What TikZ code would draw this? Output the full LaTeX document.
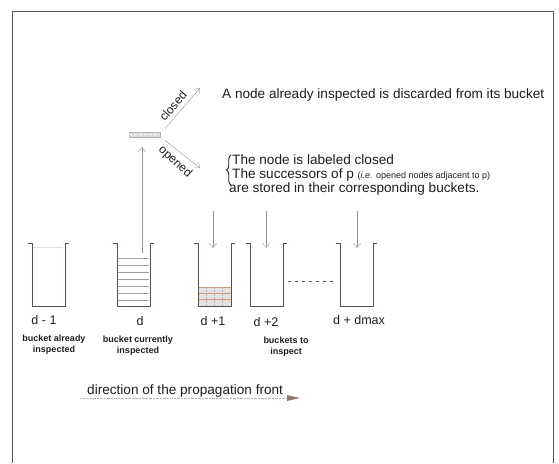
\documentclass[tikz,border=0pt]{standalone}
\usepackage{fontspec}
\setmainfont{Liberation Sans}
\usetikzlibrary{arrows.meta,positioning,calc,decorations.pathreplacing}
\definecolor{cwall}{RGB}{90,80,80}
\definecolor{carrow}{RGB}{150,150,150}
\definecolor{cstripe}{RGB}{160,160,160}
\definecolor{cgrid}{RGB}{205,150,120}
\definecolor{cfront}{RGB}{150,120,110}
\definecolor{ctext}{RGB}{30,30,30}
% bucket with its left wall at x = #1, rim centre named #2
\newcommand{\bucket}[2]{%
  \draw[cwall, semithick] (#1-4,243) -- (#1,243) -- (#1,306) -- (#1+33,306)
       -- (#1+33,243) -- (#1+37,243);
  \coordinate (#2) at (#1+16.5,243);}
\newcommand{\fs}[1]{\fontsize{#1}{#1}\selectfont}

\begin{document}
\begin{tikzpicture}[x=1pt,y=-1pt,
    arr/.style={-{Straight Barb[length=4.5pt,width=7pt]}, carrow, thin},
    txt/.style={anchor=west, inner sep=0pt, text=ctext, font=\fs{13.6}},
    lev/.style={inner sep=0pt, text=ctext, font=\fs{12.5}},
    note/.style={inner sep=0pt, text=ctext, align=center, font=\bfseries\fontsize{9}{11}\selectfont}]
        \useasboundingbox (0,0) rectangle (559,463);
        % frame
        \draw[gray!70!black, line width=1pt] (12,463) -- (12,11) -- (553,11) -- (553,463);
        % buckets
        \bucket{32}{bm}
        \bucket{117}{bd}
        \bucket{198}{bp1}
        \bucket{250}{bp2}
        \bucket{340}{bmax}
        \draw[gray!25] (33,247) -- (63,247);
        \foreach \y in {258,265,...,300}
          \draw[cstripe] (118,\y) -- (149,\y);
        \fill[gray!22] (198.5,287) rectangle (230.5,305.5);
        \foreach \y in {287,293,299}
          \draw[cgrid, thin] (198.5,\y) -- (230.5,\y);
        \foreach \x in {206,214,222}
          \draw[gray!55, densely dotted] (\x,287) -- (\x,305.5);
        \draw[cwall, thick, dash pattern=on 3pt off 4pt] (288,281) -- (337,281);
        % levels
        \node[lev] (lm) at (44,320) {d - 1};
        \node[lev] (ld) at (140,321) {d};
        \node[lev] (lp1) at (213,321) {d +1};
        \node[lev] (lp2) at (266,322) {d +2};
        \node[lev] (lmax) at (359,320) {d + dmax};
        \node[note] (nm) at (54,345) {bucket already\\inspected};
        \node[note] (nd) at (138,346) {bucket currently\\inspected};
        \node[note] (np) at (286,347) {buckets to\\inspect};
        % node p taken out of bucket d
        \node[draw=gray!60, fill=gray!30, minimum width=31pt, minimum height=5pt,
              inner sep=0pt] (p) at (144.5,134.5) {};
        \draw[white, densely dashed] (p.west) -- (p.east);
        \coordinate (pout) at (142,253);
        \coordinate (pin) at (142,147);
        \draw[arr] (pout) -- (pin);
        \coordinate (cl) at (200,88);
        \coordinate (op) at (200,168);
        \draw[arr] ($(p.east)+(5,-6)$) -- (cl);
        \draw[arr] ($(p.east)+(5,6)$) -- (op);
        \node[rotate=49, inner sep=0pt, text=ctext, font=\fs{12}] (clt) at (173,106) {closed};
        \node[rotate=-42, inner sep=0pt, text=ctext, font=\fs{12}] (opt) at (175,162) {opened};
        \node[txt] (t1) at (222,95) {A node already inspected is discarded from its bucket};
        \draw[ctext, line width=0.9pt, decorate, decoration={brace, amplitude=4.5pt}] (231,185) -- (231,155);
        \node[txt] (t2) at (232,160) {The node is labeled closed};
        \node[txt] (t3) at (232,175) {The successors of p \fs{9}(\textit{i.e.} opened nodes adjacent to p)};
        \node[txt] (t4) at (229,189) {are stored in their corresponding buckets.};
        % successors stored
        \foreach \x/\n in {213/bp1,266/bp2,357/bmax}{
          \coordinate (s\n) at (\x,211);
          \draw[arr] (s\n) -- (\x,248);
        }
        % propagation front
        \node[txt] (front) at (87,391) {direction of the propagation front};
        \coordinate (f0) at (80,398);
        \coordinate (f1) at (287,398);
        \draw[gray!60, densely dotted] (f0) -- (f1);
        \fill[cfront] (f1) -- ++(0,-3) -- ++(13,3) -- ++(-13,3) -- cycle;
      \end{tikzpicture}
\end{document}
